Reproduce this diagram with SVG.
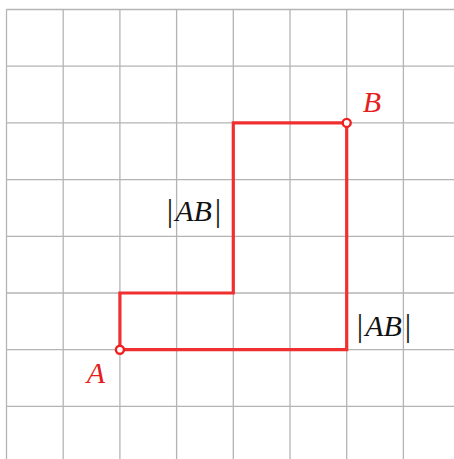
<svg xmlns="http://www.w3.org/2000/svg" width="454" height="459" viewBox="0 0 454 459">
<style>
.grid line{stroke:#b4b4b4;stroke-width:1.3}
.path{fill:none;stroke:#f03030;stroke-width:3.2;stroke-linejoin:miter}
.pt{fill:#fff;stroke:#f02020;stroke-width:2.4}
.lbl{font-family:"Liberation Serif",serif;font-style:italic;font-size:30px;text-anchor:middle}
.red{fill:#e51e1e}
.blk{fill:#111}
.bar{font-style:normal;font-size:32px}
</style>
<rect width="454" height="459" fill="#fff"/>
<g class="grid" id="grid">
<line x1="6.5" y1="9.5" x2="6.5" y2="459"/>
<line x1="63.2" y1="9.5" x2="63.2" y2="459"/>
<line x1="119.9" y1="9.5" x2="119.9" y2="459"/>
<line x1="176.6" y1="9.5" x2="176.6" y2="459"/>
<line x1="233.3" y1="9.5" x2="233.3" y2="459"/>
<line x1="290" y1="9.5" x2="290" y2="459"/>
<line x1="346.7" y1="9.5" x2="346.7" y2="459"/>
<line x1="403.4" y1="9.5" x2="403.4" y2="459"/>
<line x1="6.5" y1="9.5" x2="454" y2="9.5"/>
<line x1="6.5" y1="66.2" x2="454" y2="66.2"/>
<line x1="6.5" y1="122.9" x2="454" y2="122.9"/>
<line x1="6.5" y1="179.6" x2="454" y2="179.6"/>
<line x1="6.5" y1="236.3" x2="454" y2="236.3"/>
<line x1="6.5" y1="293" x2="454" y2="293"/>
<line x1="6.5" y1="349.7" x2="454" y2="349.7"/>
<line x1="6.5" y1="406.4" x2="454" y2="406.4"/>
</g>
<g id="connectors">
<path class="path" d="M119.9 349.7 V293 H233.3 V122.9 H346.7"/>
<path class="path" d="M119.9 349.7 H346.7 V122.9"/>
</g>
<g id="A">
<circle class="pt" cx="119.9" cy="349.7" r="4"/>
<text class="lbl red" x="96" y="383">A</text>
</g>
<g id="B">
<circle class="pt" cx="346.7" cy="122.9" r="4"/>
<text class="lbl red" x="372" y="112">B</text>
</g>
<g id="label-left">
<text class="lbl blk" x="194" y="221"><tspan class="bar">|</tspan><tspan dx="2">AB</tspan><tspan class="bar" dx="3">|</tspan></text>
</g>
<g id="label-right">
<text class="lbl blk" x="384" y="336"><tspan class="bar">|</tspan><tspan dx="2">AB</tspan><tspan class="bar" dx="3">|</tspan></text>
</g>
</svg>
